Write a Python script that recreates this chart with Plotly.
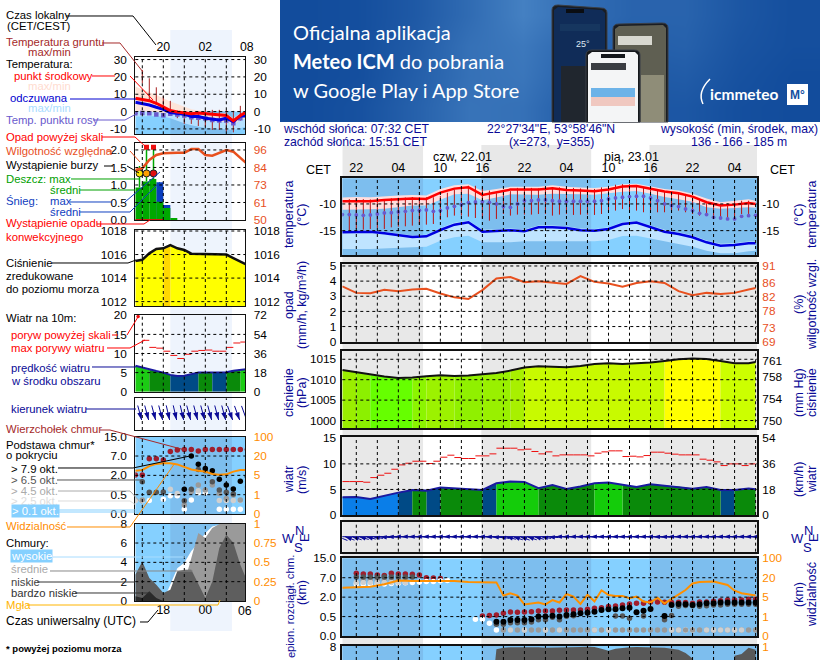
import numpy as np
import plotly.graph_objects as go

W, H = 820, 660
FONT = "Liberation Sans"
NAVY = "#0a0a96"
ORANGE = "#ff8c00"
HUMID = "#e8501e"
NIGHT_BLUE = "#7dbeee"
DAY_BLUE = "#85d0ff"

# ---- left (small) meteogram, hourly from 16:00 local, h=0 is 20:00
l_hours = list(range(-4, 13))
l_temp = [7.7, 7.1, 6.3, 4.8, 2.9, 0.6, -0.2, -0.6, -1.2, -0.8, -1.2, -1.7, -1.9, -2.3, -5.4, -2.3, 0.0]
l_temp_max = [14.4, 12.9, 11.2, 9.6, 7.7, 5.8, 4.4, 2.9, 1.3, 0.6, 0, -1, -1, -1, -3.8, -1, 1]
l_temp_min = [0.4, 0.2, -0.2, -0.6, -1, -1.3, -1.9, -2.5, -3.8, -4.4, -5.2, -5.8, -5.8, -6.3, -7.7, -5.2, -3.8]
l_feels = [5.4, 4.8, 3.8, 2.5, 1.3, -0.6, -1, -1.5, -2.9, -2.9, -3.8, -4.4, -4.8, -3.8, -5.8, -2.5, -2.5]
l_feels_min = [-2.9, -2.9, -2.5, -2.5, -2.9, -3.8, -5.2, -6.7, -7.9, -8.7, -9.4, -9.8, -10.2, -10.2, -10.6, -9.6, -8.3]
l_dew = [-1, -0.8, -1, -1.7, -2.1, -1.3, -1.7, -2.3, -3.3, -3.5, -4, -4.8, -5.2, -5.2, -6.7, -3.8, -1.9]
l_ground_hours = list(range(-3, 12))
l_ground_max = [24, 19.2, 14, 9, 6.2, 0.6, 0, -0.6, -0.6, 1, 1, 1, 1, 0.4, 3.3]
l_ground_min = [16.3, 6.7, 3.8, 1.9, -1, -3.8, -7.1, -7.1, -8.3, -8.7, -10.6, -10.6, -11.5, -12, -5.2]

l_rain_hours = [-3.5, -2.5, -1.5, -0.5, 0.5, 1.5]
l_rain = [0.93, 1.1, 1.17, 0.52, 0.34, 0.06]
l_snow = [0, 0, 0, 1.08, 0.43, 0]
l_rain_max_hours = [-3.4, -2.4, -1.4]
l_rain_mean = [0.93, 1.1, 1.17]
l_rain_max = [1.54, 2.08, 2.08]
l_storm = [1.33, 1.33, 1.33]
l_storm_colors = ["#ffe600", "#ffa000", "#e01010"]
l_over_hours = [-2.4, -1.4]
l_over = [2.08, 2.08]
l_humid = [82.9, 84, 89.4, 92.7, 93.8, 94.2, 94.2, 94.2, 96.6, 96.6, 92.7, 92.3, 94.2, 96, 94.9, 91, 86.8]
l_pressure = [1015.45, 1015.56, 1016.1, 1016.47, 1016.53, 1016.8, 1016.53, 1016.39, 1016.07, 1016.05, 1016.05,
              1016.05, 1016.05, 1016.0, 1015.7, 1015.4, 1015.1]
l_pressure_colors = ["#ffff00"] * 4 + ["#ffd800"] + ["#ffff00"] * 11
l_wind = [6.8, 6.3, 5.7, 5.4, 5, 4.4, 4.1, 4.2, 4.6, 5, 5, 5, 5, 5.1, 5.5, 5.8, 5.9]
l_wind_colors = ["#1ccc14"] * 2 + ["#0a8a0a"] * 3 + ["#004a86"] * 4 + ["#0a8a0a"] * 2 + ["#004a86"] * 2 + ["#0a8a0a"] * 2 + ["#1ccc14"]
l_gust = [None, 13.45, 11.6, 11.4, 10.6, 9.5, 8.7, 9.8, 10.6, 10.8, 10.9, 10.6, 10.6, 11.6, 12.75, 13]
l_wind_dir = [340, 345, 345, 345, 345, 347, 347, 347, 345, 345, 345, 345, 345, 345, 340, 340, 340]

l_top = [2.1, 2.1, 6.3, 6.3, 6, 8.9, 9.5, 9.7, 9.7, 9.1, 9.7, 9.7, 9.7, 9.7, 9.7, 9.7, 9.7]
l_black_h = [3, 4, 5, 6, 7, 8, 9, 10, 11, 12]
l_black = [0.92, 7.0, 4.9, 3.8, 3.2, 1.7, 1.25, 0.94, 1.55, 1.9]
l_dark_h = [-3, -2, -1, 0, 3, 4, 5, 6, 7, 8, 9, 10]
l_dark = [1.5, 0.68, 0.68, 0.71, 0.34, 0.92, 3.5, 3.2, 1.5, 0.86, 0.68, 0.55]
l_gray_h = [-3, 3, 4, 5, 6, 7, 8, 9, 10, 11, 12]
l_gray = [0.36, 0.23, 0.74, 1.25, 0.86, 1.25, 0.6, 0.4, 0.49, 0.36, 1.1]
l_light_h = [-4, 1, 2, 5, 8, 9, 10, 11]
l_light = [0.34, 0.92, 0.6, 0.8, 0.35, 0.35, 0.35, 0.35]
l_white_h = [-3, -2, 0, 1, 2, 3, 4, 5, 6, 8, 9, 10, 11]
l_white = [0.35, 0.35, 0.38, 0.47, 0.47, 0.12, 0.36, 0.65, 0.65, 0.12, 0.12, 0.12, 0.12]
l_vis = [8.6, 9.2, 12.2, 13.9, 14.3, 14.3, 13.5, 11.7, 9.6, 8.6, 7.9, 6, 5.5, 5.8, 7.9, 9.2, 9.2]

l_high = [0, 0, 0, 0, 0, 1.7, 3.4, 3.97, 5.17, 6, 7.03, 7.72, 7.9, 7.97, 7.72, 6.34, 5.48]
l_mid = [0, 0, 0, 0, 0, 0, 0.66, 1.86, 4.45, 7.03, 6.52, 7.55, 7.97, 8, 8, 8, 8]
l_low = [2.72, 4.1, 2.38, 1.69, 0.83, 1.17, 3.07, 3.24, 3.24, 1.69, 0.31, 2.03, 5.48, 6.86, 6.03, 3.76, 2.03]
l_vlow = [0.48, 0.31, 1, 0.31, 0, 0, 0, 0, 0, 0, 0, 0, 0, 0, 0, 0, 0]
l_fog_h = [7.9, 8.9, 9.9, 10.9]
l_fog = [1.17, 1.17, 1.17, 1.17]

# ---- right (main) meteogram, h=0 is 20:00 on 21.01
r_hours2 = list(range(0, 60, 2)) + [59]
r_hours1 = list(range(0, 60))
r_time_ticks = [2, 8, 14, 20, 26, 32, 38, 44, 50, 56]
r_time_labels = ["22", "04", "10", "16", "22", "04", "10", "16", "22", "04"]
r_daylight = [(11.53, 19.85), (35.53, 43.85)]
r_temp = [-9.5, -9.44, -9.5, -9.25, -9.06, -9, -9.06, -7.88, -7.13, -6.88, -8.31, -7.75, -7.31, -7.31, -7.31, -7.06,
          -7.38, -7.5, -7.63, -7.31, -6.75, -6.63, -7.19, -7.69, -8, -8.63, -9.69, -10.31, -10.13, -9.81, -10]
r_temp_max = [-8.8, -8.7, -8.75, -8.55, -8.4, -8.35, -8.4, -7.2, -6.5, -6.3, -7.6, -7.2, -6.8, -6.8, -6.8, -6.5,
              -6.8, -6.9, -7, -6.8, -6.3, -6.2, -6.7, -7.2, -7.5, -8.1, -9, -9.7, -9.4, -9.1, -9.4]
r_temp_min = [-11.1, -11, -11, -10.9, -10.6, -10.3, -10.3, -9.2, -8.2, -8.1, -9.3, -8.8, -8.2, -8.3, -8.3, -8.1,
              -8.2, -8.2, -8.3, -8, -7.7, -7.6, -8.1, -8.7, -9.1, -9.6, -10.6, -10.9, -10.8, -10.6, -10.7]
r_feels = [-15.31, -15.31, -15.19, -15.5, -15.88, -16.19, -16.06, -14.88, -13.88, -13.44, -15.19, -15.13, -14.94,
           -15.13, -14.38, -14.38, -14.5, -14.94, -15, -14.69, -13.75, -13.5, -14.38, -15.19, -15.63, -16.25, -17.19,
           -17.81, -17.69, -17.38, -17.38]
r_feels_max = [-15, -15, -14.9, -15.2, -15.6, -15.9, -15.75, -14.5, -13.5, -13.1, -14.85, -14.8, -14.6, -14.8, -14.05,
               -14.05, -14.2, -14.6, -14.7, -14.35, -13.45, -13.2, -14.05, -14.85, -15.3, -15.9, -16.85, -17.45, -17.35,
               -17.05, -17.05]
r_feels_min = [-18.44, -18.44, -18.44, -18.31, -18.25, -18.13, -18, -16.88, -16.25, -15.94, -17.19, -17.19, -17.19, -17,
               -16.88, -16.88, -16.88, -17, -17, -16.75, -16, -15.94, -16.56, -17, -17.5, -18, -18.75, -19.25, -19.25,
               -18.88, -18.75]
r_dew = [-12, -12, -12.06, -12.13, -12.06, -11.88, -11.69, -11.63, -11.5, -11.38, -11.25, -11.19, -11.13, -11.38, -11.25,
         -10.75, -10.44, -10.13, -9.75, -9.63, -9.56, -9.69, -10, -10.5, -10.63, -10, -9.38, -9.38, -9.25, -9.25, -9.38,
         -9.5, -9.5, -9.5, -9.5, -9.5, -9.5, -9.38, -9.06, -8.88, -8.75, -8.63, -8.56, -8.56, -8.88, -9.38, -10, -10.31,
         -10.5, -10.94, -11.25, -11.75, -12, -12.5, -12.63, -12.81, -12.81, -12.31, -12.19, -12.13]
r_ground_max = [-9.1, -9.1, -9.1, -9.15, -9.15, -9.1, -8.95, -8.85, -8.8, -8.7, -8.7, -8.75, -8.75, -8.5, -7.9, -7.3,
                -6.9, -6.6, -6.6, -6.8, -7.5, -8.0, -8.1, -7.6, -7.0, -6.9, -7.0, -7.1, -7.0, -6.9, -6.9, -6.8, -7.0,
                -7.1, -7.2, -7.2, -6.9, -6.6, -6.4, -6.3, -6.3, -6.5, -6.9, -7.2, -7.4, -7.6, -7.9, -8.1, -8.4, -8.8,
                -9.3, -9.9, -10, -10, -9.9, -9.4, -9.4, -9.4]
r_ground_min = [-14.88, -14.69, -14.81, -14.69, -14.5, -14.69, -14.38, -14.25, -14.19, -14.06, -13.88, -13.88, -13.75, -13,
                -12.5, -12.19, -12.19, -12.38, -12.63, -12.63, -13.13, -12.81, -11.88, -12.19, -12, -12, -12, -11.88,
                -11.88, -12.19, -12, -11.88, -12.06, -12, -12, -12.06, -11.88, -11.56, -11.25, -10.94, -11.25, -11.25,
                -11.56, -11.13, -11.56, -11.56, -11.25, -11.25, -11.56, -11.88, -12.19, -12.19, -12.5, -12.81, -12.81,
                -12.5, -11.88, -11.88]
r_humid = [85.1, 83.2, 83.1, 84.1, 83.7, 84.2, 84.4, 83, 81.9, 81.4, 84, 87.4, 87.8, 86.3, 86.6, 86.3, 85.8, 88.1, 86.4,
           85.9, 85, 86.1, 86.6, 86.1, 83.7, 82.5, 83.2, 82.9, 83.2, 84.2, 84.6]
r_pressure = [1012.39, 1011.82, 1011.17, 1010.76, 1010.44, 1010.52, 1010.84, 1011.09, 1010.93, 1011, 1011.33, 1011.66,
              1012.23, 1012.96, 1013.29, 1013.21, 1013.04, 1013.37, 1013.86, 1014.02, 1013.86, 1014.02, 1014.19, 1014.59,
              1015, 1015.16, 1015.08, 1014.59, 1014.02, 1014.02, 1014.35]
r_pressure_colors = ["#9aee00", "#8cf000", "#66ff00", "#66ff00", "#66ff00", "#8cf500", "#9cf200", "#9cf200", "#90f000",
                     "#90f000", "#99f000", "#99f000", "#a8f000"] + ["#c8fa00"] * 10 + ["#ffff00"] * 4 + ["#ccff00"] * 3
r_wind = [3.46, 3.53, 3.14, 3.79, 4.38, 4.9, 4.77, 5.36, 5.16, 4.97, 4.9, 6.2, 6.54, 6.47, 5.23, 5.88, 5.08, 5.56, 6.21,
          6.34, 5.88, 5.49, 6.01, 5.75, 5.56, 5.16, 5.49, 4.9, 4.9, 5.16, 5.03]
r_wind_colors = ["#0a7ee8"] * 4 + ["#004a86", "#0a8a0a", "#004a86", "#0a8a0a", "#0a8a0a", "#0a8a0a", "#004a86"] + \
                ["#14cc0a"] * 3 + ["#0a8a0a"] * 4 + ["#14cc0a"] * 2 + ["#0a8a0a"] * 7 + ["#004a86", "#0a8a0a", "#0a8a0a"]
r_gust = [6.54, 6.54, 6.54, 6.41, 7.32, 7.78, 8.17, 8.95, 9.8, 10.13, 10.52, 10.52, 10.07, 10.52, 11.31, 11.7, 11.24, 11.05,
          11.05, 11.57, 11.57, 11.96, 13.07, 13.07, 13.07, 12.75, 12.88, 12.42, 11.96, 12.35, 11.57, 11.76, 11.76, 11.76,
          11.76, 11.57, 12.09, 12.35, 12.55, 12.55, 11.44, 11.5, 11.37, 11.63, 12.29, 12.29, 12.09, 11.9, 11.76, 11.76,
          11.76, 10.92, 10.72, 10.39, 9.67, 10, 10, 9.67, 10]
r_wind_dir = [112, 110, 108, 106, 104, 100, 95, 92, 90, 90, 90, 90, 90, 90, 90, 90, 90, 90, 90, 90, 90, 92, 95, 100, 105,
              108, 110, 108, 105, 100, 95, 90, 90, 90, 90, 90, 90, 90, 90, 90, 90, 90, 90, 90, 90, 92, 92, 90, 90, 90,
              90, 90, 90, 90, 90, 90, 90, 90, 90, 90]

r_top_h = [2, 3, 4, 5, 6, 7, 8, 9, 10, 11, 12, 13, 14] + list(range(20, 60))
r_top = [8.8, 8.5, 8.5, 8.1, 7.9, 8.8, 8.5, 8.5, 8.4, 8.1, 7, 6.9, 6.8, 0.55, 0.59, 0.62, 0.75, 0.86, 0.83, 0.86,
         0.88, 0.93, 0.93, 0.93, 0.98, 1, 1, 1, 1.06, 1.14, 1.19, 1.27, 1.32, 1.4, 1.48, 1.52, 1.52, 1.63, 1.63, 1.6, 1.58,
         1.6, 1.58, 1.52, 1.63, 1.63, 1.68, 1.73, 1.78, 1.78, 1.78, 1.83, 1.83]
r_black_h = list(range(22, 45)) + list(range(46, 60))
r_black = [0.37, 0.37, 0.41, 0.41, 0.41, 0.43, 0.5, 0.5, 0.57, 0.5, 0.62, 0.68, 0.75, 0.8, 0.88, 1, 1.06, 1.06, 1.14, 1.19,
           0.83, 0.95, 1.09, 0.55, 1.4, 1.48, 1.45, 1.4, 1.45, 1.52, 1.52, 1.58, 1.58, 1.58, 1.58, 1.58, 1.58]
r_dark_h = [2, 3, 4, 5, 6, 7, 8, 9, 10, 22, 23, 24, 25, 26, 27, 28, 29, 30, 31, 32, 33, 39, 40, 41, 43, 46, 46, 47, 48, 49, 50,
            51, 52, 53, 54, 55, 56, 57, 58, 59]
r_dark = [7.3, 7.3, 7.3, 7.3, 7.3, 7.3, 7.3, 7.3, 7.3, 0.3, 0.3, 0.34, 0.34, 0.34, 0.36, 0.42, 0.42, 0.48, 0.42, 0.52, 0.57,
          0.55, 0.55, 0.46, 0.55, 0.55, 0.42, 0.58, 1.3, 1.36, 1.33, 1.3, 1.33, 1.4, 1.4, 1.45, 1.45, 1.45, 1.45, 1.45]
r_gray_h = [3, 4, 5, 6, 7, 8, 9] + list(range(23, 60))
r_gray = [6.4, 6.4, 6.4, 6.4, 6.4, 6.4, 6.4] + [0.155] * 37
r_light_h = [2, 3, 4, 5, 6, 7, 8, 9, 24, 26, 29, 31, 36, 38, 47, 48, 52, 53, 54, 55, 56, 57]
r_light = [5.8, 5.8, 5.8, 5.8, 5.8, 5.8, 5.8, 5.8, 0.155, 0.155, 0.155, 0.155, 0.155, 0.155, 0.155, 0.155, 0.155, 0.155,
           0.155, 0.155, 0.155, 0.155]
r_white_h = [2, 3, 4, 5, 6, 7, 8, 9, 10, 11, 12, 13, 14, 15, 19, 20, 21, 22, 49, 50]
r_white = [5.4, 5.4, 5.4, 5.4, 5.4, 5.5, 5.6, 5.7, 5.8, 5.9, 6, 6, 6.2, 6.3, 0.43, 0.43, 0.33, 0.155, 0.155, 0.155]
r_vis_h = [0, 4, 6, 8, 10, 12, 14, 16, 18, 20, 22, 23, 24, 25, 26, 28, 29, 30, 31, 32, 33, 34, 35, 36, 37, 38, 39, 40, 41,
           42, 43, 44, 45, 46, 47, 48, 49, 50, 51, 53, 55, 56, 57, 59]
r_vis = [12.3, 13.1, 14.9, 17.8, 17.5, 17.5, 17.8, 17.5, 16.7, 16.4, 16.4, 6.2, 8, 6.2, 3.5, 3.9, 3.5, 4.4, 3.9, 7.4, 5.4,
         3.6, 6.9, 4.1, 10.3, 6.7, 5.9, 5.9, 4.8, 5.4, 4.1, 3.9, 4.9, 3.7, 4.6, 6.7, 10.5, 15.6, 16.7, 17, 14.4, 10, 8, 6.2]
r_low = [0] * 22 + [7.72, 7.9, 7.95, 7.97, 7.97, 7.97, 7.95, 7.9, 7.9, 7.9, 7.9, 7.95, 7.97, 8, 7.97, 7.8, 7.55, 7.8, 7.9,
                    7.95, 7.97, 7.95, 7.97, 7.95, 7.9, 7.8, 7.66, 7.3, 6.7, 0, 0, 0, 0, 0, 7.0, 7.2, 7.9, 7.66]

BASE_KM = [0, 0.5, 2, 7, 15]
VIS_KM = [0, 1, 5, 20, 100]
TICK_POS = [0, 1, 2, 3, 4]


def base_pos(km):
    return np.interp(km, BASE_KM, TICK_POS).tolist()


def vis_pos(km):
    return np.interp(km, VIS_KM, TICK_POS).tolist()


def px(x):
    return x / W


def py(y):
    return 1 - y / H


fig = go.Figure()
layout_axes = {}
shapes = []
annotations = []
axis_count = 1


def tick_font(color="black"):
    return dict(family=FONT, size=11.8, color=color)


def panel(box, xr, yr, yticks=None, yrange2=None, yticks2=None, color2="black", ylabels=None, ylabels2=None,
          top=None, bottom=None, gap=5, border=1, xsize=12.3):
    # every panel is an x axis, a y axis and an overlaid y axis for the right hand scale
    global axis_count
    x0, x1, y0, y1 = box
    n = axis_count + 1
    m = axis_count + 2
    axis_count += 2
    xa, ya, ya2 = f"x{n}", f"y{n}", f"y{m}"
    xdict = dict(domain=[px(x0), px(x1)], range=xr, anchor=ya, showgrid=False, zeroline=False, showline=True, mirror=True,
                 linecolor="#111111", linewidth=border, ticks="", showticklabels=False, fixedrange=True, automargin=False)
    if top or bottom:
        vals, text = top or bottom
        xdict.update(side="top" if top else "bottom", showticklabels=True, tickmode="array", tickvals=vals, ticktext=text,
                     tickfont=dict(family=FONT, size=xsize, color="black"), ticklabelstandoff=0 if top else -3)
    layout_axes[f"xaxis{n}"] = xdict
    layout_axes[f"yaxis{n}"] = dict(domain=[py(y1), py(y0)], range=yr, anchor=xa, showgrid=False, zeroline=False, fixedrange=True,
                                    tickmode="array", tickvals=yticks or [], ticktext=ylabels or [str(v) for v in (yticks or [])],
                                    tickfont=tick_font(), ticks="outside", ticklen=gap, tickcolor="rgba(0,0,0,0)",
                                    showline=True, mirror=True, linecolor="#111111", linewidth=border, automargin=False)
    layout_axes[f"yaxis{m}"] = dict(overlaying=ya, side="right", range=yrange2 or yr, anchor=xa, showgrid=False, zeroline=False,
                                    fixedrange=True, tickmode="array", tickvals=yticks2 or [],
                                    ticktext=ylabels2 or [str(v) for v in (yticks2 or [])], tickfont=tick_font(color2),
                                    ticks="outside", ticklen=gap, tickcolor="rgba(0,0,0,0)", showline=False, automargin=False)
    # an axis with no trace on it is not drawn, so the right hand scale gets an empty one
    fig.add_trace(go.Scatter(x=[None], y=[None], mode="lines", xaxis=xa, yaxis=ya2, hoverinfo="skip", showlegend=False))
    return xa, ya, ya2


def dashed_grid(xa, ya, xvals, yvals):
    for v in xvals:
        shapes.append(dict(type="line", xref=xa, yref=f"{ya} domain", x0=v, x1=v, y0=0, y1=1, layer="above",
                           line=dict(color="black", width=1, dash="3px,3px")))
    for v in yvals:
        shapes.append(dict(type="line", xref=f"{xa} domain", yref=ya, x0=0, x1=1, y0=v, y1=v, layer="above",
                           line=dict(color="black", width=1, dash="3px,3px")))


def blue_back(xa, ya, xr, yr, dark_spans, dark, light):
    shapes.append(dict(type="rect", xref=xa, yref=ya, x0=xr[0], x1=xr[1], y0=yr[0], y1=yr[1], layer="below",
                       line_width=0, fillcolor=light))
    for a, b in dark_spans:
        shapes.append(dict(type="rect", xref=xa, yref=ya, x0=a, x1=b, y0=yr[0], y1=yr[1], layer="below",
                           line_width=0, fillcolor=dark))


def line(x, y, color, width, xa, ya, **kw):
    fig.add_trace(go.Scatter(x=x, y=y, mode="lines", line=dict(color=color, width=width), xaxis=xa, yaxis=ya,
                             hoverinfo="skip", showlegend=False, **kw))


def dots(x, y, color, size, xa, ya, symbol="circle", **kw):
    fig.add_trace(go.Scatter(x=x, y=y, mode="markers", marker=dict(color=color, size=size, symbol=symbol, line_width=0),
                             xaxis=xa, yaxis=ya, hoverinfo="skip", showlegend=False, **kw))


def band(x, upper, lower, color, xa, ya):
    fig.add_trace(go.Scatter(x=list(x) + list(x)[::-1], y=list(upper) + list(lower)[::-1], mode="lines", fill="toself",
                             fillcolor=color, line_width=0, xaxis=xa, yaxis=ya, hoverinfo="skip", showlegend=False))


def color_blocks(x, y, colors, floor, xa, ya):
    # one filled polygon per time step, grouped by colour
    for c in dict.fromkeys(colors):
        xs, ys = [], []
        for i, ci in enumerate(colors):
            if ci == c:
                xs += [x[i], x[i + 1], x[i + 1], x[i], x[i], None]
                ys += [y[i], y[i + 1], floor, floor, y[i], None]
        fig.add_trace(go.Scatter(x=xs, y=ys, mode="lines", fill="toself", fillcolor=c, line_width=0, xaxis=xa, yaxis=ya,
                                 hoverinfo="skip", showlegend=False))


def steps(x, y, color, width, xa, ya):
    xs, ys = [], []
    for i, v in enumerate(y):
        if v is not None:
            xs += [x[i], x[i + 1], None]
            ys += [v, v, None]
    line(xs, ys, color, width, xa, ya)


def sticks(x, lo, hi, color, width, xa, ya):
    xs, ys = [], []
    for a, b, c in zip(x, lo, hi):
        xs += [a, a, None]
        ys += [b, c, None]
    line(xs, ys, color, width, xa, ya)


def wind_arrows(hours, dirs, length, xa, ya, size):
    xs, ys = [], []
    for h, d in zip(hours, dirs):
        a = np.radians(d)
        xs += [h, h + length * np.sin(a) / 7, None]
        ys += [0, length * np.cos(a), None]
    line(xs, ys, NAVY, 1, xa, ya, cliponaxis=False)
    fig.add_trace(go.Scatter(x=hours, y=[0] * len(hours), mode="markers", cliponaxis=False,
                             marker=dict(symbol="arrow", size=size, color=NAVY, angle=[d + 180 for d in dirs], line_width=0),
                             xaxis=xa, yaxis=ya, hoverinfo="skip", showlegend=False))


def label(x, y, text, color="black", size=11.3, anchor="left", angle=0, bg=None, family=FONT):
    annotations.append(dict(xref="paper", yref="paper", x=px(x), y=py(y), text=text, showarrow=False, xanchor=anchor,
                            yanchor="middle", textangle=angle, bgcolor=bg, borderpad=0,
                            font=dict(family=family, size=size, color=color)))


def leader(points, color, width=1):
    path = "M " + " L ".join(f"{px(a):.5f},{py(b):.5f}" for a, b in points)
    shapes.append(dict(type="path", path=path, xref="paper", yref="paper", layer="above", line=dict(color=color, width=width)))


def rect(x0, x1, y0, y1, color):
    shapes.append(dict(type="rect", xref="paper", yref="paper", layer="above", x0=px(x0), x1=px(x1), y0=py(y1), y1=py(y0),
                       fillcolor=color, line_width=0))


def phone(x0, x1, y0, y1, tilt, frame, screen):
    shapes.append(dict(type="path", xref="paper", yref="paper", layer="above", fillcolor=frame, line=dict(color="#3a3f47", width=1),
                       path=f"M {px(x0)},{py(y0 + 5)} Q {px(x0)},{py(y0)} {px(x0 + 6)},{py(y0)} L {px(x1 - 6)},{py(y0 + tilt)} "
                            f"Q {px(x1)},{py(y0 + tilt)} {px(x1)},{py(y0 + tilt + 5)} L {px(x1)},{py(y1)} L {px(x0)},{py(y1)} Z"))
    shapes.append(dict(type="path", xref="paper", yref="paper", layer="above", fillcolor=screen, line_width=0,
                       path=f"M {px(x0 + 2)},{py(y0 + 5)} L {px(x0 + 6)},{py(y0 + 2)} L {px(x1 - 5)},{py(y0 + tilt + 2)} "
                            f"L {px(x1 - 2)},{py(y0 + tilt + 5)} L {px(x1 - 2)},{py(y1)} L {px(x0 + 2)},{py(y1)} Z"))


# ---- banner
banner_z = [[0.0, 0.05, 0.25, 0.6, 1.0, 0.65, 0.45, 0.45, 0.2, 0.05],
            [0.0, 0.05, 0.3, 0.7, 0.85, 0.5, 0.35, 0.4, 0.15, 0.05],
            [0.0, 0.05, 0.35, 0.7, 0.8, 0.4, 0.25, 0.3, 0.1, 0.0],
            [0.0, 0.1, 0.4, 0.75, 0.7, 0.3, 0.2, 0.2, 0.05, 0.0]]
layout_axes["xaxis"] = dict(domain=[px(280), 1], range=[-0.5, 9.5], visible=False, fixedrange=True, anchor="y")
layout_axes["yaxis"] = dict(domain=[py(122), 1], range=[3.5, -0.5], visible=False, fixedrange=True, anchor="x")
fig.add_trace(go.Heatmap(z=banner_z, zsmooth="best", colorscale=[[0, "#124c9c"], [1, "#4480c2"]], showscale=False,
                         xaxis="x", yaxis="y", hoverinfo="skip"))

phone(552, 607, 5, 122, 3, "#1a1d22", "#102c58")
rect(560, 600, 24, 31, "#16365f")
rect(566, 584, 9, 13, "#0a0d12")
rect(561, 604, 66, 122, "#20262e")
phone(613, 668, 24, 122, -1, "#1a1d22", "#5f5f52")
rect(618, 652, 36, 45, "#d8d8d0")
rect(641, 664, 75, 122, "#8f8d78")
phone(586, 640, 50, 122, 0, "#15181c", "#f4f5f6")
rect(591, 626, 63, 70, "#3a3d42")
rect(601, 625, 54, 58, "#15181c")
rect(591, 635, 88, 97, "#6db3e8")
rect(591, 635, 97, 106, "#f0c8c0")
label(575, 44, "25°", "#dfe8f2", 9)
label(292, 32, "Oficjalna aplikacja", "white", 20, family="Lato")
label(292, 61, "<b>Meteo ICM</b> do pobrania", "white", 20, family="Lato")
label(292, 90, "w Google Play i App Store", "white", 20, family="Lato")
label(709, 94, "<b>icmmeteo</b>", "white", 15.5, family="Lato")
shapes.append(dict(type="path", xref="paper", yref="paper", layer="above", line=dict(color="white", width=1.5),
                   path=f"M {px(710)},{py(79)} Q {px(697)},{py(92)} {px(703)},{py(104)}"))
rect(787, 808, 84, 105, "white")
label(797.5, 95, "<b>M°</b>", "#1450a0", 12, "center")

# ---- left meteogram
LX0, LX1 = 135.3, 245.3
LXR = [-4, 11.71]
L_GRID = [-3, 0, 3, 6, 9]
L_DAY = (1, 9.8)

# temperature
yr = [-13.1, 31.3]
xa, ya, ya2 = panel((LX0, LX1, 57.3, 134.3), LXR, yr, [-10, 0, 10, 20, 30], yr, [-10, 0, 10, 20, 30], top=([0, 6], ["20", "02"]))
shapes.append(dict(type="rect", xref=xa, yref="paper", x0=L_DAY[0], x1=L_DAY[1], y0=py(631), y1=py(30), layer="below",
                   line_width=0, fillcolor="#eef4fd"))
blue_back(xa, ya, LXR, [yr[0], 0], [L_DAY], NIGHT_BLUE, DAY_BLUE)
band(l_hours, l_temp_max, l_temp_min, "rgba(255,225,210,0.85)", xa, ya)
band(l_hours, l_temp_min, l_feels_min, "#b6e1ff", xa, ya)
sticks(l_ground_hours, l_ground_min, l_ground_max, "#a82020", 1, xa, ya)
dots(l_hours, l_dew, "#6a5acd", 4.5, xa, ya, "square")
line(l_hours, l_feels, "#0000e0", 3, xa, ya)
line(l_hours, l_temp, "#ff0000", 3, xa, ya)
dashed_grid(xa, ya, L_GRID, [-10, 0, 10, 20, 30])
label(247, 47, "08", "black", 12.3, "center")

# rain and humidity
yr = [0, 2.19]
yr2 = [50, 100.4]
xa, ya, ya2 = panel((LX0, LX1, 143.3, 220), LXR, yr, [0, 0.5, 1, 1.5, 2], yr2, [50, 61, 73, 84, 96], HUMID,
                    ["0.0", "0.5", "1.0", "1.5", "2.0"])
fig.add_trace(go.Bar(x=l_rain_hours, y=l_snow, width=1, marker=dict(color="#0a3dbe", line_width=0), xaxis=xa, yaxis=ya,
                     hoverinfo="skip", showlegend=False))
fig.add_trace(go.Bar(x=l_rain_hours, y=l_rain, width=1, marker=dict(color="#00a800", line_width=0), xaxis=xa, yaxis=ya,
                     hoverinfo="skip", showlegend=False))
sticks(l_rain_max_hours, l_rain_mean, l_rain_max, "#00a800", 1.5, xa, ya)
fig.add_trace(go.Scatter(x=l_rain_max_hours, y=l_storm, mode="markers", xaxis=xa, yaxis=ya, hoverinfo="skip", showlegend=False,
                         marker=dict(color=l_storm_colors, size=7, line=dict(color="#222222", width=1))))
dots(l_over_hours, l_over, "#ee1010", 5, xa, ya, "square")
line(l_hours[:5], [0.012] * 5, "#e01010", 1, xa, ya)
line(l_hours, l_humid, HUMID, 2.5, xa, ya2)
dashed_grid(xa, ya, L_GRID, [0.5, 1, 1.5, 2])

# pressure
yr = [1011.63, 1018.11]
xa, ya, ya2 = panel((LX0, LX1, 229.7, 306), LXR, yr, [1012, 1014, 1016, 1018], yr, [1012, 1014, 1016, 1018])
color_blocks(l_hours, l_pressure, l_pressure_colors, yr[0], xa, ya)
line(l_hours, l_pressure, "#111111", 2.5, xa, ya)
dashed_grid(xa, ya, L_GRID, [1012, 1014, 1016, 1018])

# wind
yr = [0, 20]
xa, ya, ya2 = panel((LX0, LX1, 315.3, 391.7), LXR, yr, [0, 5, 10, 15, 20], [0, 72], [0, 18, 36, 54, 72])
color_blocks(l_hours, l_wind, l_wind_colors, 0, xa, ya)
line(l_hours, l_wind, "#1a1aa0", 2, xa, ya)
steps(l_hours, l_gust, "#ee1010", 1, xa, ya)
dots([-3.6], [19.7], "#ee1010", 3.5, xa, ya, cliponaxis=False)
dashed_grid(xa, ya, L_GRID, [5, 10, 15])

# wind direction
xa, ya, ya2 = panel((LX0, LX1, 398.3, 430), LXR, [-10, 21.7])
dashed_grid(xa, ya, L_GRID, [])
wind_arrows([h - 0.1 for h in l_hours], l_wind_dir, 15, xa, ya, 8)

# cloud base and visibility
yr = [0, 4]
xa, ya, ya2 = panel((LX0, LX1, 436.7, 514), LXR, yr, TICK_POS, yr, TICK_POS, ORANGE,
                    ["0.0", "0.5", "2.0", "7.0", "15.0"], ["0", "1", "5", "20", "100"])
blue_back(xa, ya, LXR, yr, [L_DAY], NIGHT_BLUE, DAY_BLUE)
dots(l_hours, base_pos(l_top), "#a01e2d", 5.5, xa, ya)
dots(l_white_h, base_pos(l_white), "white", 5.5, xa, ya)
dots(l_light_h, base_pos(l_light), "#cfcfcf", 5.5, xa, ya)
dots(l_gray_h, base_pos(l_gray), "#9a9a9a", 5.5, xa, ya)
dots(l_dark_h, base_pos(l_dark), "#555555", 5.5, xa, ya)
dots(l_black_h, base_pos(l_black), "black", 5.5, xa, ya)
line(l_hours, vis_pos(l_vis), "#ff9000", 2, xa, ya2)
dashed_grid(xa, ya, L_GRID, [1, 2, 3])

# cloud cover
yr = [0, 8]
xa, ya, ya2 = panel((LX0, LX1, 523.7, 601), LXR, yr, [0, 2, 4, 6, 8], [0, 1], [0, 0.25, 0.5, 0.75, 1], ORANGE,
                    bottom=([0, 6], ["18", "00"]))
blue_back(xa, ya, LXR, yr, [L_DAY], NIGHT_BLUE, DAY_BLUE)
zero_l = [0] * len(l_hours)
band(l_hours, l_high, zero_l, "white", xa, ya)
band(l_hours, l_mid, zero_l, "#9a9a9a", xa, ya)
band(l_hours, l_low, zero_l, "#5e5e5e", xa, ya)
band(l_hours, l_vlow, zero_l, "#2a2a2a", xa, ya)
fig.add_trace(go.Bar(x=l_fog_h, y=l_fog, width=0.38, marker=dict(color="#ffb400", line_width=0), xaxis=xa, yaxis=ya,
                     hoverinfo="skip", showlegend=False))
dashed_grid(xa, ya, L_GRID, [2, 4, 6])
label(245, 611, "06", "black", 12.3, "center")

# ---- left legend labels
for x, y, text, color in [
    (5, 15, "Czas lokalny", "black"), (6, 26, "(CET/CEST)", "black"), (5, 42, "Temperatura gruntu", "#a52a2a"),
    (27, 52, "max/min", "#a52a2a"), (5, 64, "Temperatura:", "black"), (13, 76, "punkt środkowy", "#ff0000"),
    (27, 86, "max/min", "#ffdcd0"), (9, 98, "odczuwana", "#0000d0"), (27, 108, "max/min", "#a8dcff"),
    (5, 120, "Temp. punktu rosy", "#6a5acd"), (5, 137, "Opad powyżej skali", "#ff0000"),
    (5, 151, "Wilgotność względna", HUMID), (5, 165, "Wystąpienie burzy", "black"), (5, 179, "Deszcz: max", "#00a000"),
    (49, 190, "średni", "#00a000"), (5, 201, "Śnieg:", "#1040c0"), (49, 201, "max", "#1040c0"), (49, 212, "średni", "#1040c0"),
    (5, 223, "Wystąpienie opadu", "#ff0000"), (5, 237, "konwekcyjnego", "#ff0000"), (5, 263, "Ciśnienie", "black"),
    (5, 276, "zredukowane", "black"), (5, 289, "do poziomu morza", "black"), (5, 318, "Wiatr na 10m:", "black"),
    (10, 335, "poryw powyżej skali", "#ff0000"), (10, 348, "max porywy wiatru", "#ff0000"), (10, 368, "prędkość wiatru", "#0a0a96"),
    (10, 381, "w środku obszaru", "#0a0a96"), (10, 409, "kierunek wiatru", "#0a0a96"), (5, 429, "Wierzchołek chmur", "#a52a2a"),
    (5, 445, "Podstawa chmur*", "black"), (5, 455, "o pokryciu", "black"), (10, 469, "> 7.9 okt.", "black"),
    (10, 480, "> 6.5 okt.", "#555555"), (10, 491, "> 4.5 okt.", "#aaaaaa"), (10, 501, "> 2.5 okt.", "#dddddd"),
    (5, 526, "Widzialność", "#ff8c00"), (5, 543, "Chmury:", "black"), (10, 569, "średnie", "#aaaaaa"),
    (10, 582, "niskie", "#444444"), (10, 593, "bardzo niskie", "#333333"), (5, 605, "Mgła", "#ffb400"),
]:
    label(x, y, text, color)
label(11, 511, "> 0.1 okt.", "white", bg=DAY_BLUE)
label(10, 556, "wysokie", "white", bg=DAY_BLUE)
label(5, 621, "Czas uniwersalny (UTC)", "black", 12)
label(5, 648, "<b>* powyżej poziomu morza</b>", "black", 9.5)

for pts, color in [
    ([(66, 16), (133, 16), (156, 45)], "black"), ([(102, 43), (120, 43), (143, 72)], "#a52a2a"),
    ([(92, 76), (115, 76)], "#ff0000"), ([(130, 76), (153, 100)], "#ff0000"), ([(70, 99), (136, 99)], "#0000d0"),
    ([(93, 120), (125, 120), (138, 113)], "#6a5acd"), ([(102, 137), (135, 137), (146, 147)], "#ff0000"),
    ([(106, 151), (112, 151)], HUMID), ([(130, 151), (140, 162)], HUMID), ([(104, 166), (113, 166)], "black"),
    ([(127, 166), (139, 173)], "black"), ([(71, 179), (139, 179)], "#00a000"), ([(80, 190), (135, 190)], "#00a000"),
    ([(70, 202), (112, 202)], "#1040c0"), ([(125, 202), (160, 172)], "#1040c0"), ([(80, 212), (130, 212), (160, 182)], "#1040c0"),
    ([(97, 224), (144, 224), (150, 220)], "#ff0000"), ([(52, 263), (128, 263), (136, 260)], "black"),
    ([(112, 335), (118, 335)], "#ff0000"), ([(127, 335), (138, 317)], "#ff0000"), ([(107, 348), (130, 348), (145, 340)], "#ff0000"),
    ([(92, 367), (136, 367)], "#0a0a96"), ([(86, 409), (136, 409)], "#0a0a96"), ([(100, 430), (110, 430), (185, 450)], "#a52a2a"),
    ([(58, 468), (133, 468), (190, 456)], "black"), ([(57, 480), (143, 480)], "#555555"), ([(58, 491), (130, 491), (143, 505)], "#aaaaaa"),
    ([(58, 501), (130, 501), (136, 505)], "#dddddd"), ([(55, 510), (136, 510)], "#85d0ff"), ([(55, 512), (136, 512)], "#85d0ff"),
    ([(67, 527), (130, 527), (175, 463)], "#ff8c00"), ([(53, 557), (186, 557)], "#a8dcff"), ([(50, 571), (193, 571)], "#888888"),
    ([(37, 582), (135, 582)], "#333333"), ([(75, 593), (150, 593)], "#333333"), ([(27, 605), (218, 605), (220, 600)], "#ffb400"),
    ([(140, 622), (148, 622), (158, 610)], "black"),
]:
    leader(pts, color)

# ---- right meteogram
RX0, RX1 = 342.3, 757
RXR = [0, 59.2]
R_GRID = list(range(2, 60, 3))
R_GAP = 2
R_BORDER = 1.5
r_nights = [(RXR[0], r_daylight[0][0]), (r_daylight[0][1], r_daylight[1][0]), (r_daylight[1][1], RXR[1])]

# temperature
yr = [-19.56, -5.2]
xa, ya, ya2 = panel((RX0, RX1, 178.3, 255), RXR, yr, [-15, -10], yr, [-15, -10], top=(r_time_ticks, r_time_labels),
                    gap=R_GAP, border=R_BORDER, xsize=12.5)
for a, b in r_nights:
    shapes.append(dict(type="rect", xref=xa, yref="paper", x0=a, x1=b, y0=0, y1=py(145), layer="below", line_width=0,
                       fillcolor="#e8e8e8"))
blue_back(xa, ya, RXR, yr, r_nights, NIGHT_BLUE, DAY_BLUE)
band(r_hours2, r_temp_max, r_temp_min, "#ffdede", xa, ya)
band(r_hours2, r_feels_max, r_feels_min, "#bfe4ff", xa, ya)
sticks(r_hours1[1:59], r_ground_min, r_ground_max, "#b81414", 1, xa, ya)
dots(r_hours1, r_dew, "#6a5acd", 3.8, xa, ya)
line(r_hours2, r_feels, "#0000e0", 2.5, xa, ya)
line(r_hours2, r_temp, "#ff0000", 2.5, xa, ya)
dashed_grid(xa, ya, R_GRID, [-15, -10])

# rain and humidity
yr = [0, 5.13]
xa, ya, ya2 = panel((RX0, RX1, 264, 341.7), RXR, yr, [0, 1, 2, 3, 4, 5], [69, 91.6], [69, 73, 78, 82, 86, 91], HUMID,
                    gap=R_GAP, border=R_BORDER)
line(r_hours2, r_humid, HUMID, 2, xa, ya2)
dashed_grid(xa, ya, R_GRID, [1, 2, 3, 4, 5])

# pressure
yr = [998.1, 1017.1]
xa, ya, ya2 = panel((RX0, RX1, 350.7, 428.3), RXR, yr, [1000, 1005, 1010, 1015], [748.6, 762.9], [750, 754, 758, 761],
                    gap=R_GAP, border=R_BORDER)
color_blocks(r_hours2, r_pressure, r_pressure_colors, yr[0], xa, ya)
line(r_hours2, r_pressure, "#111111", 2, xa, ya)
dashed_grid(xa, ya, R_GRID, [1000, 1005, 1010, 1015])

# wind
yr = [0, 15.2]
xa, ya, ya2 = panel((RX0, RX1, 437.3, 515), RXR, yr, [0, 5, 10, 15], [0, 54.7], [0, 18, 36, 54], gap=R_GAP, border=R_BORDER)
color_blocks(r_hours2, r_wind, r_wind_colors, 0, xa, ya)
line(r_hours2, r_wind, "#1a1aa0", 2, xa, ya)
steps(r_hours1, r_gust, "#ee1010", 1, xa, ya)
dashed_grid(xa, ya, R_GRID, [5, 10])

# wind direction
xa, ya, ya2 = panel((RX0, RX1, 521.7, 551.7), RXR, [-15, 15], border=R_BORDER)
dashed_grid(xa, ya, R_GRID, [])
line([-0.8, 60.3], [0, 0], NAVY, 1, xa, ya, cliponaxis=False)
wind_arrows([h - 0.6 for h in r_hours1], r_wind_dir, 10, xa, ya, 7)

# cloud base and visibility
yr = [0, 4]
xa, ya, ya2 = panel((RX0, RX1, 558.3, 636), RXR, yr, TICK_POS, yr, TICK_POS, ORANGE,
                    ["0.0", "0.5", "2.0", "7.0", "15.0"], ["0", "1", "5", "20", "100"], gap=R_GAP, border=R_BORDER)
blue_back(xa, ya, RXR, yr, r_nights, NIGHT_BLUE, DAY_BLUE)
dots(r_top_h, base_pos(r_top), "#a01e2d", 5.5, xa, ya)
dots(r_white_h, base_pos(r_white), "white", 5.5, xa, ya)
dots(r_gray_h, base_pos(r_gray), "#9a9a9a", 5.5, xa, ya)
dots(r_light_h, base_pos(r_light), "#cfcfcf", 5.5, xa, ya)
dots(r_dark_h, base_pos(r_dark), "#555555", 5.5, xa, ya)
dots(r_black_h, base_pos(r_black), "black", 6, xa, ya)
line(r_vis_h, vis_pos(r_vis), "#ff9000", 2, xa, ya2)
dashed_grid(xa, ya, R_GRID, [1, 2, 3])

# cloud cover, cut off by the bottom of the picture
yr = [6.52, 8.13]
xa, ya, ya2 = panel((RX0, RX1, 645.7, 660), RXR, yr, [8], [6.52 / 8, 8.13 / 8], [1], ORANGE, gap=R_GAP, border=R_BORDER)
blue_back(xa, ya, RXR, yr, r_nights, NIGHT_BLUE, DAY_BLUE)
band(r_hours1, r_low, [0] * len(r_low), "#585858", xa, ya)
dashed_grid(xa, ya, R_GRID, [])

# ---- right hand texts
for x, y, text in [
    (356, 129, "wschód słońca: 07:32 CET"), (356, 142, "zachód słońca: 15:51 CET"), (551, 129, "22°27'34\"E, 53°58'46\"N"),
    (551, 142, "(x=273,  y=355)"), (739, 129, "wysokość (min, środek, max)"), (739, 142, "136 - 166 - 185 m"),
]:
    label(x, y, text, "#0a0a96", 12.2, "center")
label(432, 157, "czw, 22.01", "black", 12.5)
label(603, 157, "pią, 23.01", "black", 12.5)
label(318, 170, "CET", "black", 12.5, "center")
label(782, 170, "CET", "black", 12.5, "center")

for x, y, text in [
    (289, 215, "temperatura"), (302, 215, "(°C)"), (799, 215, "(°C)"), (812, 215, "temperatura"),
    (289, 305, "opad"), (302, 305, "(mm/h, kg/m³/h)"), (799, 305, "(%)"), (812, 305, "wilgotność wzgl."),
    (289, 393, "ciśnienie"), (302, 393, "(hPa)"), (799, 393, "(mm Hg)"), (812, 393, "ciśnienie"),
    (289, 480, "wiatr"), (302, 480, "(m/s)"), (799, 480, "(km/h)"), (812, 480, "wiatr"),
    (302, 593, "(km)"), (799, 595, "(km)"), (812, 595, "widzialność"),
]:
    label(x, y, text, "#0a0a96", 12.5, "center", -90)
label(290, 604, "pion. rozciągł. chm.", "#0a0a96", 11.3, "center", -90)
label(291, 655, "e", "#0a0a96", 11.3, "center", -90)
for x0 in (288, 797):
    label(x0, 538, "W", NAVY, 13, "center")
    label(x0 + 11, 530, "N", NAVY, 13, "center")
    label(x0 + 16, 538, "E", NAVY, 13, "center", -90)
    label(x0 + 10, 547, "S", NAVY, 13, "center")

fig.update_layout(
    template="none", width=W, height=H, autosize=False, margin=dict(l=0, r=0, t=0, b=0, pad=0), paper_bgcolor="white",
    plot_bgcolor="rgba(0,0,0,0)", barmode="overlay", showlegend=False, shapes=shapes, annotations=annotations,
    font=dict(family=FONT, size=12), **layout_axes,
)
fig.write_html("out.html", config=dict(displayModeBar=False), post_script="document.body.style.margin='0';")
